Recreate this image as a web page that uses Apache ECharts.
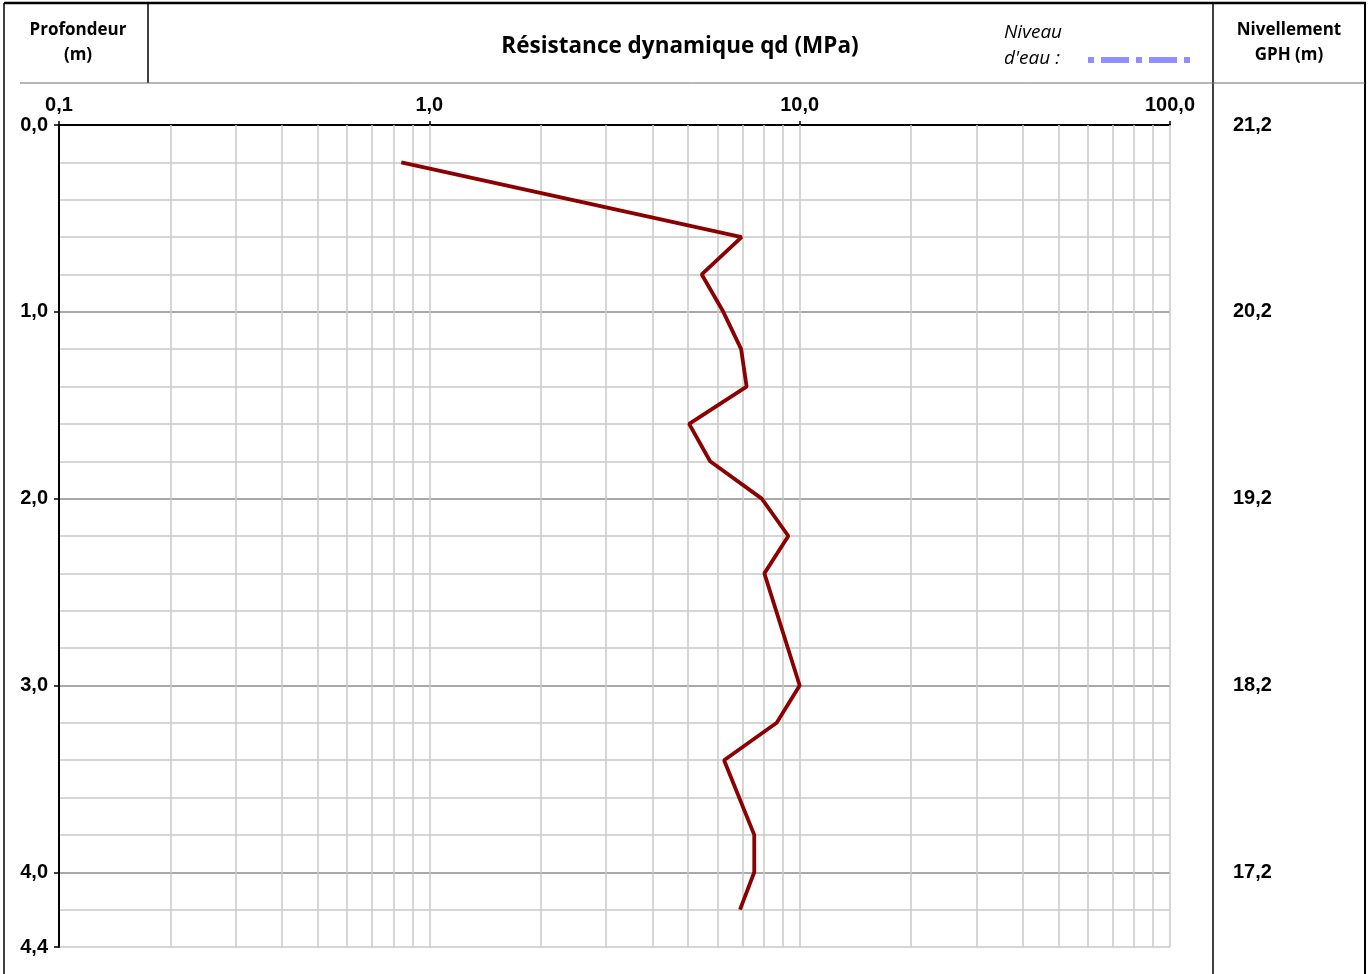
<!DOCTYPE html>
<html>
<head>
<meta charset="utf-8">
<title>Résistance dynamique qd</title>
<script src="https://cdn.jsdelivr.net/npm/echarts@6/dist/echarts.min.js"></script>
<style>
  html, body { margin: 0; padding: 0; background: #fff; }
  #chart { width: 1368px; height: 974px; }
</style>
</head>
<body>
<div id="chart"></div>
<script>
// profondeur (m) / résistance dynamique qd (MPa)
var depths = [0.2, 0.6, 0.8, 1.0, 1.2, 1.4, 1.6, 1.8, 2.0, 2.2, 2.4, 3.0, 3.2, 3.4, 3.8, 4.0, 4.2];
var qdValues = [0.84, 6.97, 5.44, 6.22, 6.95, 7.19, 5.03, 5.73, 7.90, 9.32, 8.03, 10.0, 8.67, 6.25, 7.54, 7.54, 6.90];

// nivellement GPH en face des profondeurs entières
var gphDepths = [0, 1, 2, 3, 4];
var gphLabels = ['21,2', '20,2', '19,2', '18,2', '17,2'];

// lignes verticales du papier log
var qdGridLines = [0.2, 0.3, 0.4, 0.5, 0.6, 0.7, 0.8, 0.9, 1,
  2, 3, 4, 5, 6, 7, 8, 9, 10,
  20, 30, 40, 50, 60, 70, 80, 90, 100];

var chart = echarts.init(document.getElementById('chart'));

var labelFont = 'Liberation Sans';

function comma(v) {
  return (Math.round(v * 10) / 10).toFixed(1).replace('.', ',');
}

var option = {
  animation: false,
  grid: { left: 59, right: 198, top: 125, bottom: 27, containLabel: false },
  xAxis: {
    type: 'log',
    logBase: 10,
    position: 'top',
    min: 0.1,
    max: 100,
    axisLine: { show: true, lineStyle: { color: '#000', width: 2 } },
    axisTick: { show: true, length: 4, lineStyle: { color: '#000', width: 1.5 } },
    axisLabel: {
      margin: 10,
      fontFamily: labelFont, fontWeight: 'bold', fontSize: 20, color: '#000',
      formatter: function (v) { return comma(v); }
    },
    splitLine: { show: false }
  },
  yAxis: [
    {
      type: 'value',
      inverse: true,
      min: 0, max: 4.4, interval: 1,
      position: 'left',
      axisLine: { show: true, lineStyle: { color: '#000', width: 2 } },
      axisTick: { show: true, length: 5, lineStyle: { color: '#000', width: 1.5 } },
      axisLabel: {
        margin: 11,
        padding: [5, 0, 0, 0],
        fontFamily: labelFont, fontWeight: 'bold', fontSize: 20, color: '#000',
        formatter: function (v) { return comma(v); }
      },
      splitLine: { show: false }
    },
    {
      type: 'value',
      inverse: true,
      min: 0, max: 4.4, interval: 0.2,
      position: 'left',
      axisLine: { show: false },
      axisTick: { show: false },
      axisLabel: { show: false },
      splitLine: {
        show: true,
        lineStyle: { color: ['#8c8c8c', '#c8c8c8', '#c8c8c8', '#c8c8c8', '#c8c8c8'], width: 1.5 }
      }
    },
    {
      type: 'value',
      inverse: true,
      min: 0, max: 4.4, interval: 1,
      position: 'right',
      axisLine: { show: false },
      axisTick: { show: false },
      splitLine: { show: false },
      axisLabel: {
        margin: 63,
        padding: [5, 0, 0, 0],
        fontFamily: labelFont, fontWeight: 'bold', fontSize: 20, color: '#000',
        formatter: function (v) {
          var i = gphDepths.indexOf(Math.round(v * 10) / 10);
          return i >= 0 ? gphLabels[i] : '';
        }
      }
    }
  ],
  series: [
    {
      type: 'line',
      xAxisIndex: 0,
      yAxisIndex: 0,
      z: 3,
      showSymbol: false,
      symbol: 'none',
      lineStyle: { color: '#8b0000', width: 3.8 },
      data: depths.map(function (d, i) { return [qdValues[i], d]; }),
      markLine: {
        silent: true,
        z: 1,
        symbol: ['none', 'none'],
        label: { show: false },
        lineStyle: { color: '#c8c8c8', width: 1.5, type: 'solid' },
        data: qdGridLines.map(function (v) { return { xAxis: v }; })
      }
    }
  ],
  graphic: [
    // cadre
    { type: 'line', shape: { x1: 4, y1: 3, x2: 1366, y2: 3 }, style: { stroke: '#000', lineWidth: 2.5 } },
    { type: 'line', shape: { x1: 4, y1: 3, x2: 4, y2: 974 }, style: { stroke: '#000', lineWidth: 1.5 } },
    { type: 'line', shape: { x1: 1365, y1: 3, x2: 1365, y2: 974 }, style: { stroke: '#000', lineWidth: 2 } },
    { type: 'line', shape: { x1: 148, y1: 3, x2: 148, y2: 83 }, style: { stroke: '#000', lineWidth: 1.5 } },
    { type: 'line', shape: { x1: 1213, y1: 3, x2: 1213, y2: 974 }, style: { stroke: '#000', lineWidth: 1.5 } },
    { type: 'line', shape: { x1: 20, y1: 83, x2: 1365, y2: 83 }, style: { stroke: '#6e6e6e', lineWidth: 1 } },
    // en-têtes
    { type: 'text', style: { text: 'Profondeur', x: 78, y: 30, align: 'center', verticalAlign: 'middle', font: 'bold 17px "Open Sans"', fill: '#000' } },
    { type: 'text', style: { text: '(m)', x: 78, y: 55, align: 'center', verticalAlign: 'middle', font: 'bold 17px "Open Sans"', fill: '#000' } },
    { type: 'text', style: { text: 'Résistance dynamique qd (MPa)', x: 680, y: 47, align: 'center', verticalAlign: 'middle', font: 'bold 22.5px "Open Sans"', fill: '#000' } },
    { type: 'text', style: { text: 'Niveau', x: 1004, y: 33, align: 'left', verticalAlign: 'middle', font: 'italic 19px "Open Sans"', fill: '#000' } },
    { type: 'text', style: { text: "d'eau :", x: 1004, y: 59, align: 'left', verticalAlign: 'middle', font: 'italic 19px "Open Sans"', fill: '#000' } },
    { type: 'line', shape: { x1: 1088, y1: 60, x2: 1193, y2: 60 }, style: { stroke: '#8f8fff', lineWidth: 6, lineDash: [6, 7, 28, 7] } },
    { type: 'text', style: { text: 'Nivellement', x: 1289, y: 30, align: 'center', verticalAlign: 'middle', font: 'bold 17px "Open Sans"', fill: '#000' } },
    { type: 'text', style: { text: 'GPH (m)', x: 1289, y: 55, align: 'center', verticalAlign: 'middle', font: 'bold 17px "Open Sans"', fill: '#000' } }
  ]
};

chart.setOption(option);
</script>
</body>
</html>
